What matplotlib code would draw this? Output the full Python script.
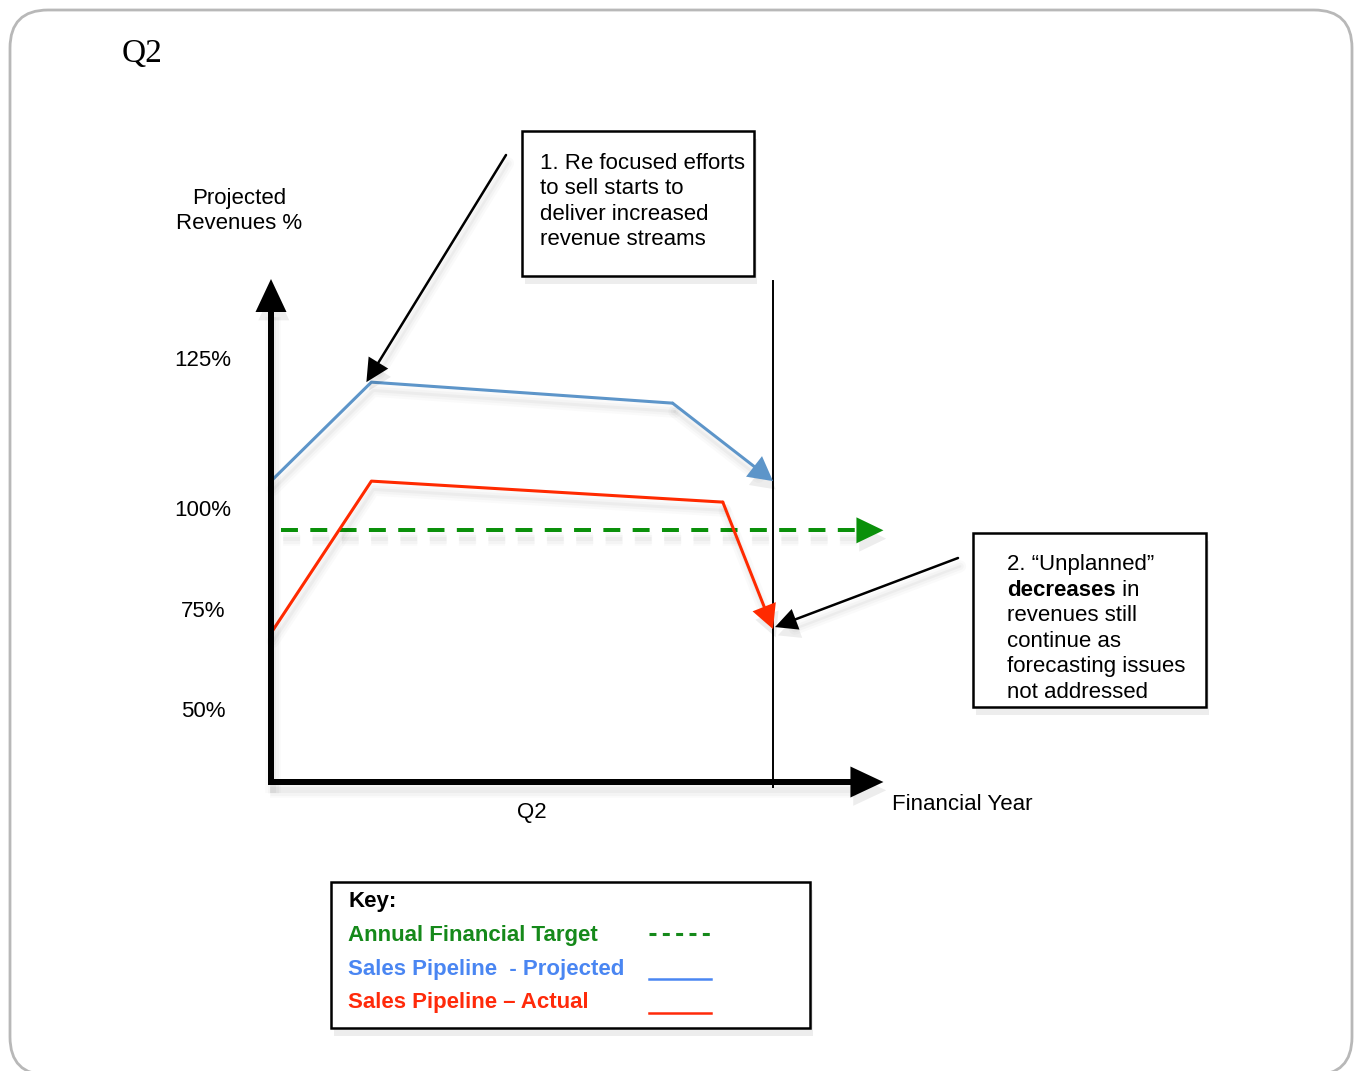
import numpy as np
import matplotlib
matplotlib.use('Agg')
import matplotlib.pyplot as plt
import matplotlib.patheffects as pe
from matplotlib.lines import Line2D
from matplotlib.patches import Polygon, FancyBboxPatch
from matplotlib.transforms import IdentityTransform

# Q2 timeline in % of the quarter, revenue in % of projection
projected_x = [0, 20, 80, 100]
projected_y = [104.5, 121, 117.5, 104.5]
actual_x = [0, 20, 90, 100]
actual_y = [69, 104.5, 101, 70]
target_x = [2, 122]
target_y = [94.5, 94.5]
quarter_end = 100

ytick_values = [50, 75, 100, 125]
ytick_labels = ['50%', '75%', '100%', '125%']
xtick_values = [52]
xtick_labels = ['Q2']

key_labels = ['Annual Financial Target', 'Sales Pipeline  - Projected', 'Sales Pipeline \u2013 Actual']
note1_lines = ['1. Re focused efforts', 'to sell starts to', 'deliver increased', 'revenue streams']
note2_lines = ['2. \u201cUnplanned\u201d', None, 'revenues still', 'continue as',
               'forecasting issues', 'not addressed']

# the revenue axis has uneven spacing between its labelled values
scale_vals = np.array([30, 50, 75, 100, 125, 140])
scale_pos = np.array([-80, 0, 100, 201, 351, 441])


def forward(v):
    return np.interp(v, scale_vals, scale_pos)


def inverse(p):
    return np.interp(p, scale_pos, scale_vals)


GREEN = '#0a900a'
BLUE = '#5d95c9'
RED = '#ff2a00'
KEY_GREEN = '#15891a'
KEY_BLUE = '#4a86f2'
KEY_RED = '#ff2a0a'

plt.rcParams['font.family'] = ['Liberation Sans', 'DejaVu Sans']
plt.rcParams['lines.scale_dashes'] = False

W, H = 1354, 1071
fig = plt.figure(figsize=(W / 100, H / 100), dpi=100)
PIX = IdentityTransform()


def shadow_line(lw):
    # soft drop shadow: a few stacked, faint, widening strokes
    return [pe.SimpleLineShadow(offset=(1.5, -6), shadow_color='black', alpha=0.02, linewidth=lw + 7),
            pe.SimpleLineShadow(offset=(1.5, -6), shadow_color='black', alpha=0.025, linewidth=lw + 3.5),
            pe.SimpleLineShadow(offset=(1.5, -6), shadow_color='black', alpha=0.03),
            pe.Normal()]


def shadow_patch():
    return [pe.SimplePatchShadow(offset=(2, -6), shadow_rgbFace='black', alpha=0.07),
            pe.Normal()]


def text(x, y, s, **kw):
    kw.setdefault('fontsize', 16)
    kw.setdefault('va', 'baseline')
    return fig.text(x, H - y, s, transform=PIX, **kw)


# outer rounded frame
frame = FancyBboxPatch((10, H - 1075), 1342, 1065, boxstyle='round,pad=0,rounding_size=38',
                       transform=PIX, fill=False, ec='#b8b8b8', lw=2)
fig.add_artist(frame)

text(122, 62, 'Q2', family='Liberation Serif', fontsize=24)
text(239, 204, 'Projected', ha='center')
text(239, 229, 'Revenues %', ha='center')
text(892, 810, 'Financial Year')

ax = fig.add_axes([271 / W, (H - 782) / H, 502 / W, 503 / H])
ax.set_xlim(0, 100)
ax.set_yscale('function', functions=(forward, inverse))
ax.set_ylim(31.75, 138.2)
for s in ax.spines.values():
    s.set_visible(False)
ax.patch.set_visible(False)
ax.set_yticks(ytick_values, ytick_labels)
ax.set_xticks(xtick_values, xtick_labels)
ax.tick_params(axis='y', length=0, pad=49, labelsize=16)
ax.tick_params(axis='x', length=0, pad=14.5, labelsize=16)
for lbl in ax.get_yticklabels():
    lbl.set_ha('center')


def to_px(x, y):
    return ax.transData.transform((x, y))


def arrow(p0, p1, color, lw_px, head_len, head_w, dashes=None, zorder=3, cap='round'):
    p0 = np.asarray(p0, float)
    p1 = np.asarray(p1, float)
    d = p1 - p0
    u = d / np.hypot(*d)
    n = np.array([-u[1], u[0]])
    base = p1 - u * head_len
    end = base + u * 3
    line = Line2D([p0[0], end[0]], [p0[1], end[1]], color=color, lw=lw_px * 0.72,
                  transform=PIX, clip_on=False, zorder=zorder, solid_capstyle=cap)
    if dashes is not None:
        line.set_dashes(dashes)
        line.set_dash_capstyle('butt')
    line.set_path_effects(shadow_line(lw_px * 0.72))
    ax.add_line(line)
    head = Polygon([p1, base + n * head_w / 2, base - n * head_w / 2], closed=True,
                   fc=color, ec='none', transform=PIX, clip_on=False, zorder=zorder)
    head.set_path_effects(shadow_patch())
    ax.add_patch(head)


ylo, yhi = ax.get_ylim()

# quarter end marker
ax.plot([quarter_end, quarter_end], [30.5, 137.8], color='black', lw=1.4, clip_on=False, zorder=2)

# axes arrows
arrow(to_px(0, ylo) + np.array([0, -3]), to_px(0, yhi), 'black', 6, 33, 31, zorder=4, cap='butt')
arrow(to_px(0, ylo) + np.array([-3, 0]), to_px(target_x[1], ylo), 'black', 6, 33, 31, zorder=4,
      cap='butt')

# annual target
arrow(to_px(target_x[0], target_y[0]), to_px(target_x[1], target_y[1]), GREEN, 4, 27, 26,
      dashes=(12.2, 8.9))

# projected and actual pipeline
ax.plot(projected_x[:-1], projected_y[:-1], color=BLUE, lw=2.2, clip_on=False, zorder=3,
        solid_capstyle='round', path_effects=shadow_line(2.2))
arrow(to_px(projected_x[-2], projected_y[-2]), to_px(projected_x[-1], projected_y[-1]),
      BLUE, 3, 24, 26)
ax.plot(actual_x[:-1], actual_y[:-1], color=RED, lw=2.2, clip_on=False, zorder=3,
        solid_capstyle='round', path_effects=shadow_line(2.2))
arrow(to_px(actual_x[-2], actual_y[-2]), to_px(actual_x[-1], actual_y[-1]),
      RED, 3, 24, 25)


def box(x0, y0, x1, y1, lw=1.8):
    b = FancyBboxPatch((x0, H - y1), x1 - x0, y1 - y0, boxstyle='square,pad=0',
                       transform=PIX, fc='white', ec='black', lw=lw, zorder=1)
    b.set_path_effects(shadow_patch())
    fig.add_artist(b)


# note 1
box(522, 131, 754, 276)
for i, s in enumerate(note1_lines):
    text(540, 169 + 25.3 * i, s, zorder=3)
arrow((506, H - 155), to_px(projected_x[1] - 1, projected_y[1]), 'black', 2.5, 23, 23)

# note 2
box(973, 533, 1206, 707)
for i, s in enumerate(note2_lines):
    if s is not None:
        text(1007, 570 + 25.6 * i, s, zorder=3)
bold = text(1007, 570 + 25.6, 'decreases', weight='bold', zorder=3)
bb = bold.get_window_extent(renderer=fig.canvas.get_renderer())
fig.text(bb.x1, H - (570 + 25.6), ' in', transform=PIX, fontsize=16, va='baseline', zorder=3)
arrow((958, H - 558), to_px(actual_x[-1] + 0.4, actual_y[-1] + 0.5), 'black', 2.5, 22, 22)

# key
box(331, 882, 810, 1028, lw=1.8)
text(348, 907, 'Key:', weight='bold', zorder=3)
key_colors = [KEY_GREEN, KEY_BLUE, KEY_RED]
key_base = [941, 975, 1008]
for s, c, yb in zip(key_labels, key_colors, key_base):
    text(348, yb, s, color=c, weight='bold', zorder=3)
fig.add_artist(Line2D([649, 711], [H - 934, H - 934], transform=PIX, color=KEY_GREEN,
                      lw=2.2, dashes=(5, 4.6), dash_capstyle='butt'))
fig.add_artist(Line2D([649, 711], [H - 979, H - 979], transform=PIX, color=KEY_BLUE, lw=1.8))
fig.add_artist(Line2D([649, 711], [H - 1013, H - 1013], transform=PIX, color=KEY_RED, lw=1.8))

fig.savefig('out.png', dpi=100)
